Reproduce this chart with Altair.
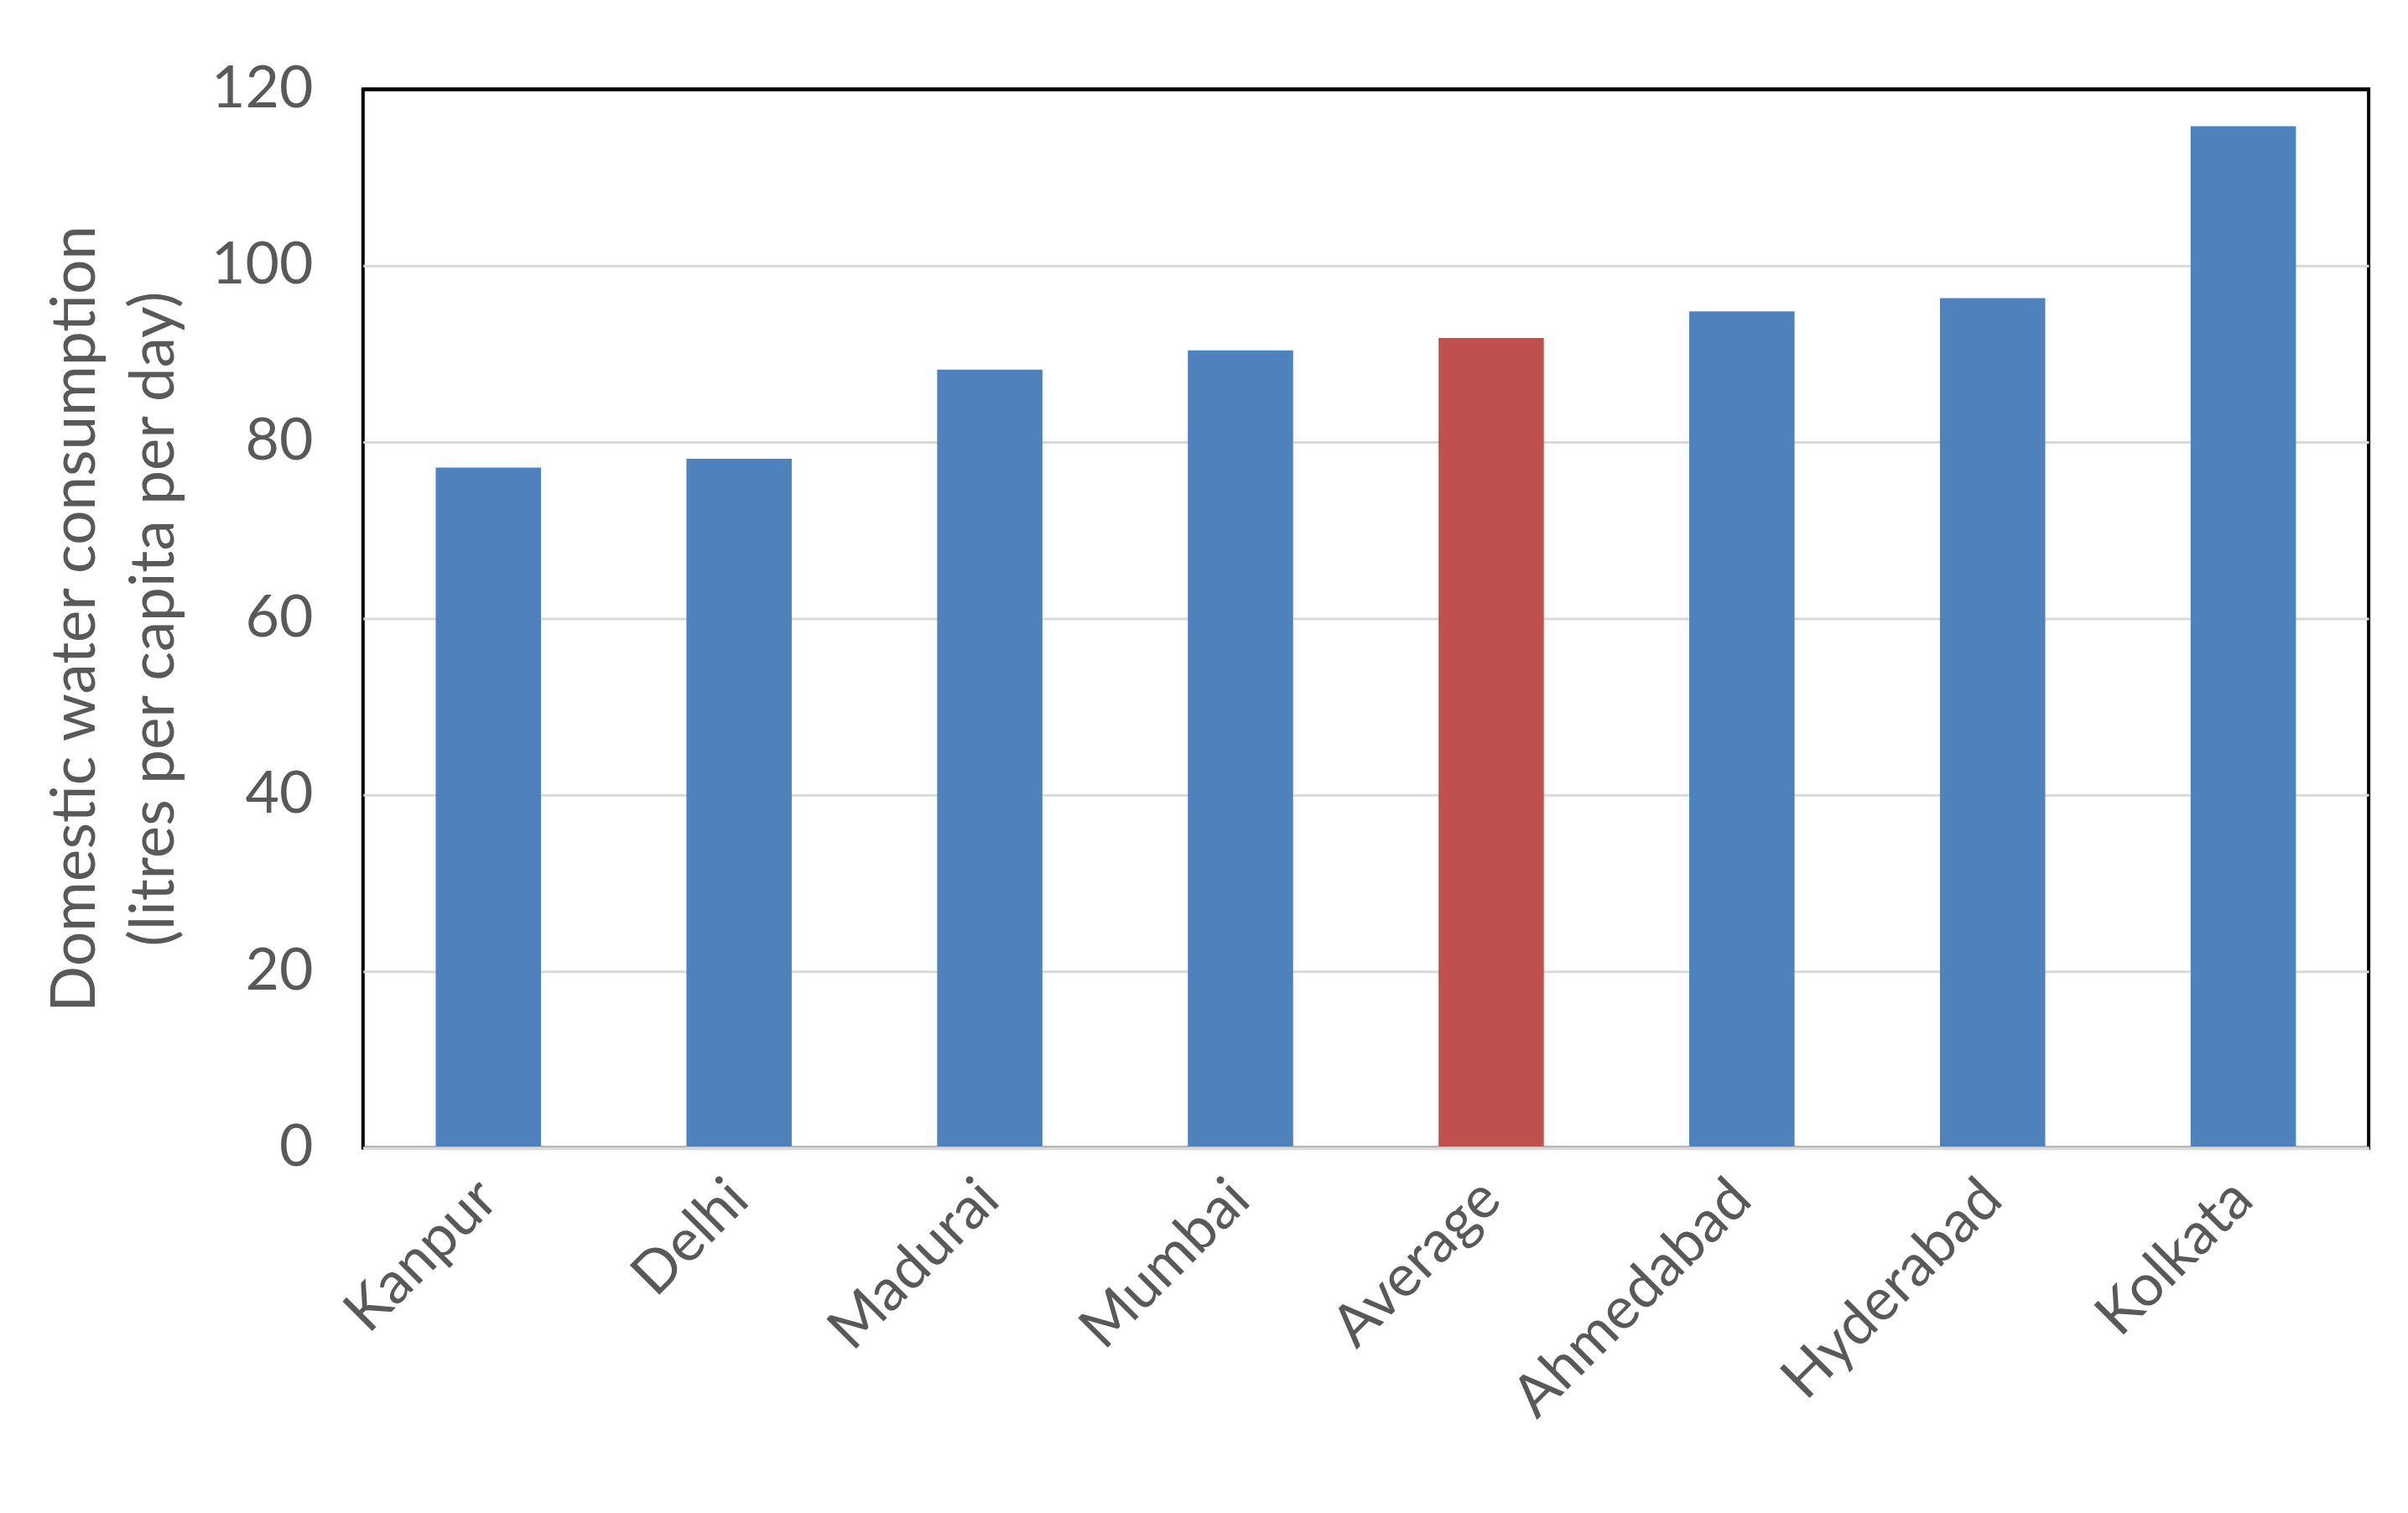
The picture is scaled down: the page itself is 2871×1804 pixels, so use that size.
import altair as alt
import pandas as pd

cities = ["Kanpur", "Delhi", "Madurai", "Mumbai", "Average", "Ahmedabad", "Hyderabad", "Kolkata"]
values = [77.1, 78.1, 88.2, 90.4, 91.8, 94.8, 96.3, 115.8]
kinds = ["city", "city", "city", "city", "average", "city", "city", "city"]
y_ticks = [0, 20, 40, 60, 80, 100, 120]

df = pd.DataFrame({"city": cities, "value": values, "kind": kinds})

FONT = "Lato"
GREY = "#595959"

chart = (
    alt.Chart(df)
    .mark_bar()
    .encode(
        x=alt.X(
            "city:N",
            sort=cities,
            scale=alt.Scale(paddingInner=0.58, paddingOuter=0.29),
            axis=alt.Axis(
                title=None,
                labelAngle=-45,
                labelAlign="right",
                labelBaseline="middle",
                labelFontSize=70,
                labelFont=FONT,
                labelColor=GREY,
                labelPadding=50,
                labelLimit=2000,
                ticks=False,
                domainColor="#d9d9d9",
                domainWidth=4,
                grid=False,
                zindex=1,
            ),
        ),
        y=alt.Y(
            "value:Q",
            scale=alt.Scale(domain=[0, 120]),
            axis=alt.Axis(
                title=["Domestic water consumption", "(litres per capita per day)"],
                titleFont=FONT,
                titleFontSize=73,
                titleFontWeight="normal",
                titleColor=GREY,
                titlePadding=30,
                titleLineHeight=94,
                values=y_ticks,
                labelFontSize=70,
                labelFont=FONT,
                labelColor=GREY,
                labelPadding=60,
                ticks=False,
                domain=False,
                gridColor={"condition": {"test": "datum.value === 120", "value": "black"}, "value": "#d9d9d9"},
                gridWidth={"condition": {"test": "datum.value === 120", "value": 4}, "value": 3},
            ),
        ),
        color=alt.Color(
            "kind:N",
            scale=alt.Scale(domain=["city", "average"], range=["#4F81BD", "#C0504D"]),
            legend=None,
        ),
    )
    .properties(
        width=2398,
        height=1266,
        background="white",
        autosize=alt.AutoSizeParams(type="none"),
        padding={"left": 426, "top": 96, "right": 39, "bottom": 420},
    )
    .configure_view(stroke="black", strokeWidth=4)
)

chart.save("out.html", embed_options={"renderer": "svg", "actions": False})
